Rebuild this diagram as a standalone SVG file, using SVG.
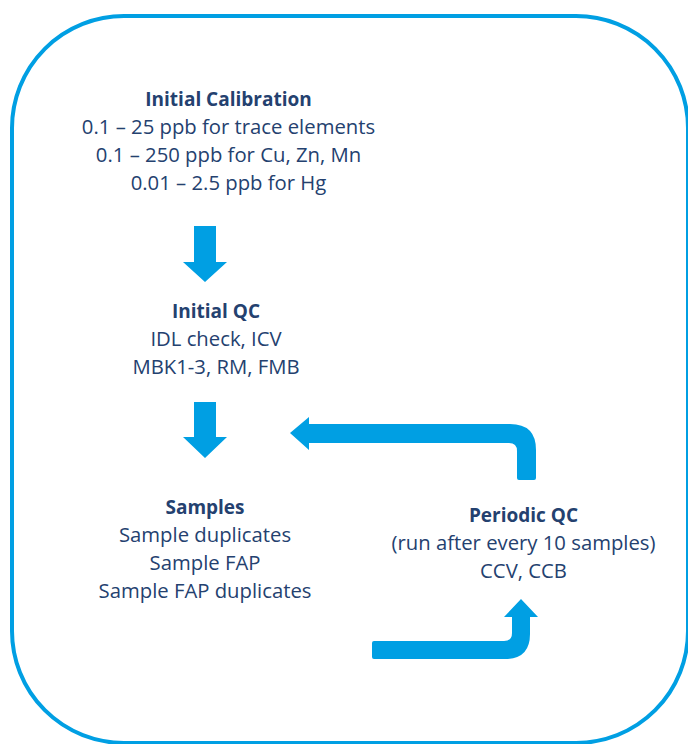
<svg xmlns="http://www.w3.org/2000/svg" width="688" height="744" viewBox="0 0 688 744">
  <style>
    .t { font-family: "Open Sans", "Liberation Sans", sans-serif; font-size: 20.3px; fill: #24416f; text-anchor: middle; }
    .b { font-weight: bold; font-size: 19px; }
    .arrow { fill: #009fe3; }
  </style>
  <rect x="0" y="0" width="688" height="744" fill="#ffffff"/>
  <!-- outer frame -->
  <rect x="12" y="16" width="676" height="727" rx="112" ry="112" fill="none" stroke="#009fe3" stroke-width="4"/>

  <g id="initial-calibration">
    <text class="t b" x="228.5" y="106">Initial Calibration</text>
    <text class="t" x="228.5" y="134">0.1 – 25 ppb for trace elements</text>
    <text class="t" x="228.5" y="162">0.1 – 250 ppb for Cu, Zn, Mn</text>
    <text class="t" x="228.5" y="190">0.01 – 2.5 ppb for Hg</text>
  </g>

  <g id="initial-qc">
    <text class="t b" x="216" y="318">Initial QC</text>
    <text class="t" x="216" y="346">IDL check, ICV</text>
    <text class="t" x="216" y="374">MBK1-3, RM, FMB</text>
  </g>

  <g id="samples">
    <text class="t b" x="205" y="514">Samples</text>
    <text class="t" x="205" y="542">Sample duplicates</text>
    <text class="t" x="205" y="570">Sample FAP</text>
    <text class="t" x="205" y="598">Sample FAP duplicates</text>
  </g>

  <g id="periodic-qc">
    <text class="t b" x="523.5" y="522">Periodic QC</text>
    <text class="t" x="523.5" y="550">(run after every 10 samples)</text>
    <text class="t" x="523.5" y="578">CCV, CCB</text>
  </g>

  <g id="connectors">
    <!-- calibration to initial QC -->
    <path class="arrow" d="M194,226 H216 V262 H227 L205,282 L183,262 H194 Z"/>
    <!-- initial QC to samples -->
    <path class="arrow" d="M194,402 H216 V437 H227 L205,458 L183,437 H194 Z"/>
    <!-- samples to periodic QC -->
    <path class="arrow" d="M374,641 H504 Q512,641 512,633 V617 H504 L521,599 L538,617 H530 V634 Q530,659 505,659 H374 Q372,659 372,657 V643 Q372,641 374,641 Z"/>
    <!-- periodic QC back to samples -->
    <path class="arrow" d="M290,433 L309,417 V424 H510 Q536,424 536,450 V478 Q536,480 534,480 H519 Q517,480 517,478 V451 Q517,443 509,443 H309 V450 Z"/>
  </g>
</svg>
